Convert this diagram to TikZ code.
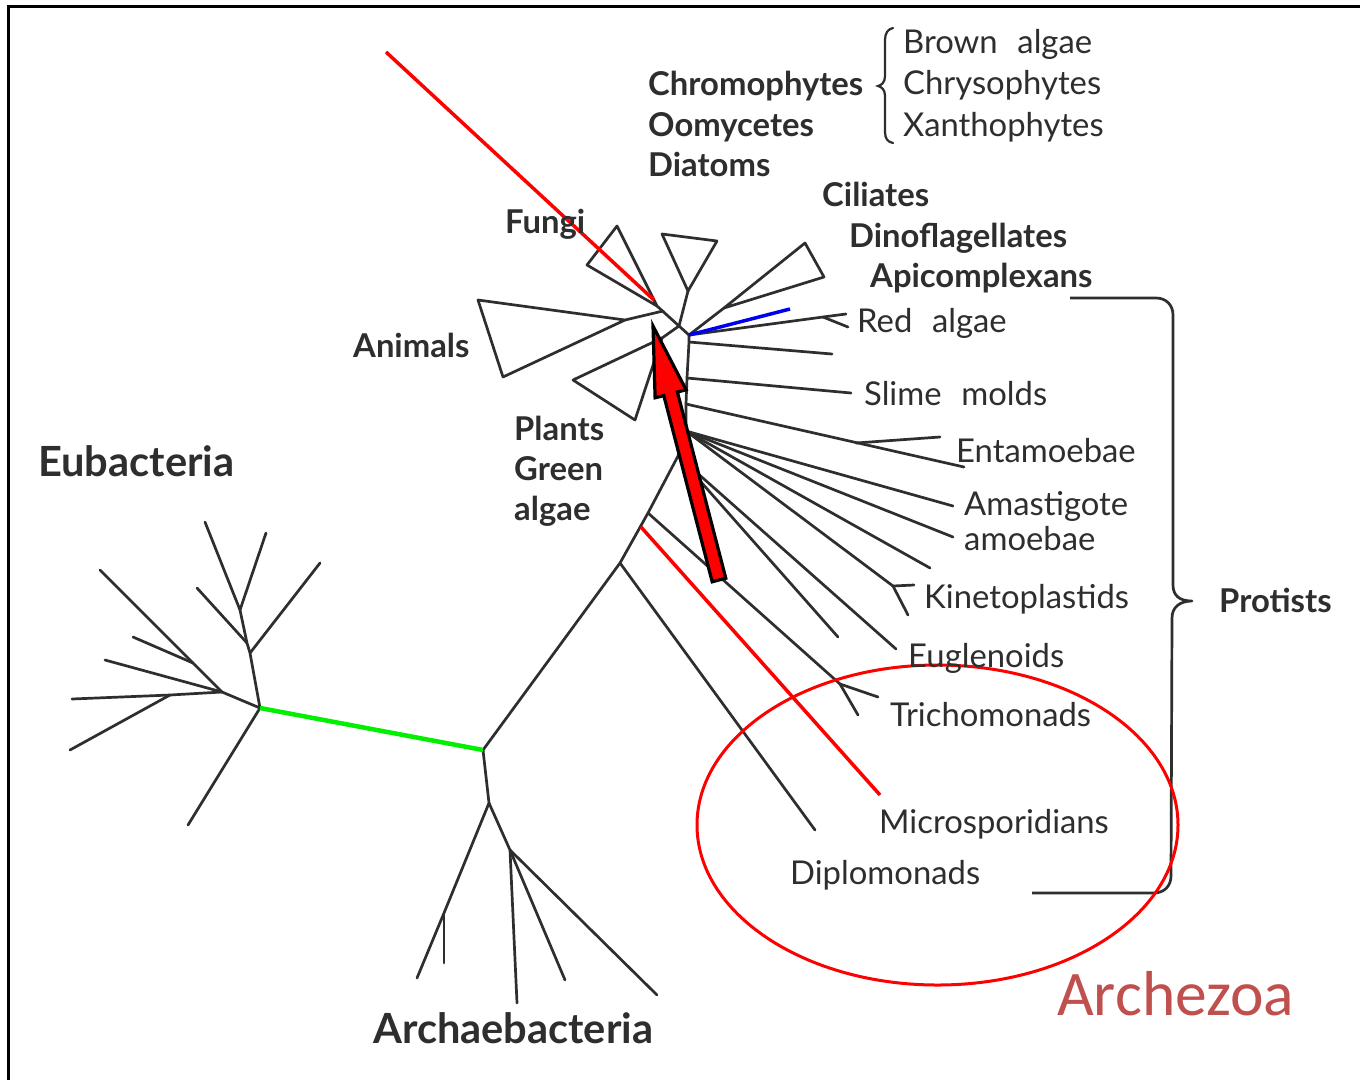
\documentclass[tikz,border=0pt]{standalone}
\usepackage{fontspec}
\setmainfont{Lato}
\newfontfamily\calfont{Carlito}
\definecolor{ink}{HTML}{2E2E2E}
\definecolor{treeclr}{HTML}{2E2E2E}
\definecolor{archclr}{HTML}{C0504D}
\definecolor{redclr}{HTML}{FF0000}
\definecolor{greenclr}{HTML}{00F000}
\definecolor{blueclr}{HTML}{0000F0}
\begin{document}
\begin{tikzpicture}[x=1pt,y=-1pt,
  br/.style={draw=treeclr,line width=2.7pt,line cap=round,line join=round},
  brace/.style={draw=treeclr,line width=2.2pt,line cap=round},
  lblR/.style={anchor=base west,inner sep=0pt,text=ink,font=\fontsize{32.8}{36}\selectfont},
  lblB/.style={anchor=base west,inner sep=0pt,text=ink,font=\fontsize{32.8}{36}\selectfont\bfseries},
  lblBig/.style={anchor=base west,inner sep=0pt,text=ink,font=\fontsize{41.6}{46}\selectfont\bfseries},
  hl/.style={line width=3.5pt,line cap=butt}]
\useasboundingbox (0,0) rectangle (1360,1080);
\fill[white] (0,0) rectangle (1360,1080);
\draw[line width=3.5pt,line join=miter] (8.5,1080) -- (8.5,6.5) -- (1360,6.5);

% ---- crown ----
\coordinate (K) at (679,326);
\coordinate (F0) at (657,306); \coordinate (Fa) at (587,265); \coordinate (Fb) at (617,226);
\coordinate (Aj) at (663,311);
\coordinate (C0) at (688,291); \coordinate (Ca) at (662,234); \coordinate (Cb) at (717,241);
\coordinate (A0) at (625,320); \coordinate (Aa) at (478,300); \coordinate (Ab) at (503,377);
\coordinate (P0) at (662,338); \coordinate (Pa) at (573,380); \coordinate (Pb) at (635,420);
\coordinate (Q0) at (724,308); \coordinate (Qa) at (805,243); \coordinate (Qb) at (824,277);
% ---- trunk ----
\coordinate (T0) at (689,335); \coordinate (T1) at (689,342); \coordinate (T2) at (687,378);
\coordinate (T3) at (686,404); \coordinate (T4) at (686,431); \coordinate (T5) at (678,456);
\coordinate (T6) at (648,513); \coordinate (T7) at (620,563); \coordinate (R0) at (483,750);
% ---- protist branches ----
\coordinate (RAf) at (823,317); \coordinate (RAa) at (846,314); \coordinate (RAb) at (848,327);
\coordinate (X1) at (832,354);
\coordinate (SM) at (851,393);
\coordinate (EN) at (964,467); \coordinate (ENj) at (856,443); \coordinate (ENe) at (940,437);
\coordinate (AM) at (953,506); \coordinate (AMb) at (953,537);
\coordinate (U1) at (930,568);
\coordinate (KIf) at (893,586); \coordinate (KIa) at (908,615); \coordinate (KIb) at (914,585);
\coordinate (U2) at (838,637);
\coordinate (EU) at (896,649);
\coordinate (TRf) at (840,684); \coordinate (TRa) at (858,715); \coordinate (TRb) at (878,697);
\coordinate (DI) at (815,830);
\coordinate (MSs) at (641,527); \coordinate (MSe) at (880,795);
\coordinate (BLe) at (790,309);
\coordinate (RTs) at (386,52); \coordinate (RTe) at (654,300);
% ---- eubacteria ----
\coordinate (E0) at (260,708); \coordinate (E1) at (250,653); \coordinate (E2) at (247,643);
\coordinate (E3) at (240,610); \coordinate (Ea) at (205,522); \coordinate (Eb) at (266,533);
\coordinate (Ec) at (197,588); \coordinate (Ed) at (320,563);
\coordinate (L1) at (222,692); \coordinate (L2) at (193,663); \coordinate (Le) at (100,570);
\coordinate (Lf) at (133,637); \coordinate (Lg) at (105,660); \coordinate (L3) at (170,695);
\coordinate (Lh) at (72,699); \coordinate (Li) at (70,750); \coordinate (Ej) at (188,825);
% ---- archaebacteria ----
\coordinate (B1) at (489,803); \coordinate (B2) at (444,913); \coordinate (Ba) at (417,978);
\coordinate (Bb) at (444,963); \coordinate (B3) at (510,850); \coordinate (Bc) at (517,1003);
\coordinate (Bd) at (565,980); \coordinate (Be) at (657,995);

% crown triangles
\draw[br] (F0) -- (Fa) -- (Fb) -- cycle;
\draw[br] (F0) -- (K);
\draw[br] (C0) -- (Ca) -- (Cb) -- cycle;
\draw[br] (C0) -- (K);
\draw[br] (A0) -- (Aa) -- (Ab) -- cycle;
\draw[br] (A0) -- (Aj);
\draw[br] (P0) -- (Pa) -- (Pb) -- cycle;
\draw[br] (P0) -- (K);
\draw[br] (Q0) -- (Qa) -- (Qb) -- cycle;
\draw[br] (T0) -- (Q0);
\draw[br] (K) -- (T0);
% trunk
\draw[br] (T0) -- (T1) -- (T2) -- (T3) -- (T4) -- (T5) -- (T6) -- (T7) -- (R0);
% branches
\draw[br] (T0) -- (RAf) -- (RAa);
\draw[br] (RAf) -- (RAb);
\draw[br] (T1) -- (X1);
\draw[br] (T2) -- (SM);
\draw[br] (T3) -- (EN);
\draw[br] (ENj) -- (ENe);
\draw[br] (T4) -- (AM);
\draw[br] (T4) -- (AMb);
\draw[br] (T4) -- (U1);
\draw[br] (T4) -- (KIf) -- (KIa);
\draw[br] (KIf) -- (KIb);
\draw[br] (T5) -- (U2);
\draw[br] (T5) -- (EU);
\draw[br] (T6) -- (TRf) -- (TRa);
\draw[br] (TRf) -- (TRb);
\draw[br] (T7) -- (DI);
% eubacteria
\draw[br] (E0) -- (E1) -- (E2) -- (E3) -- (Ea);
\draw[br] (E3) -- (Eb);
\draw[br] (E2) -- (Ec);
\draw[br] (E1) -- (Ed);
\draw[br] (E0) -- (L1) -- (L2) -- (Le);
\draw[br] (L2) -- (Lf);
\draw[br] (L1) -- (Lg);
\draw[br] (L1) -- (L3) -- (Lh);
\draw[br] (L3) -- (Li);
\draw[br] (E0) -- (Ej);
% archaebacteria
\draw[br] (R0) -- (B1) -- (B2) -- (Ba);
\draw[br] (B2) -- (Bb);
\draw[br] (B1) -- (B3) -- (Bc);
\draw[br] (B3) -- (Bd);
\draw[br] (B3) -- (Be);

% braces
\draw[brace] (893,28) .. controls (888,29) and (885,33) .. (885,40) -- (885,76)
  .. controls (885,82) and (882,85) .. (878,86) .. controls (882,87) and (885,90) .. (885,96)
  -- (885,132) .. controls (885,139) and (888,142) .. (893,143);
\draw[br,line cap=butt] (1070,298) -- (1156,298) .. controls (1166,298) and (1173,305) .. (1173,315)
  -- (1173,585) .. controls (1173,596) and (1180,601) .. (1192,601)
  .. controls (1180,601) and (1172,607) .. (1172,618)
  -- (1171,876) .. controls (1171,886) and (1164,893) .. (1154,893) -- (1032,893);

% highlight lines
\draw[hl,draw=redclr] (RTs) -- (RTe);
\draw[hl,draw=redclr] (MSs) -- (MSe);
\draw[hl,draw=blueclr] (T0) -- (BLe);
\draw[hl,draw=greenclr,line width=4.5pt] (E0) -- (R0);

% big arrow
\draw[fill=redclr,draw=black,line width=3.2pt,line join=miter]
  (712.2,581.8) -- (663.8,395.6) -- (655.1,397.8) -- (653,326) -- (686.1,389.8)
  -- (677.4,392.0) -- (725.8,578.2) -- cycle;

% ellipse
\draw[draw=redclr,line width=3pt] (937.5,825) ellipse [x radius=240.5pt, y radius=160pt];

% labels
\node[lblB] (chromo) at (648,95) {Chromophytes};
\node[lblB] (oomy) at (648,136) {Oomycetes};
\node[lblB] (diat) at (648,176) {Diatoms};
\node[lblR] (brown) at (903,53) {Brown\hspace{0.6em}algae};
\node[lblR] (chryso) at (903,94) {Chrysophytes};
\node[lblR] (xantho) at (903,136) {Xanthophytes};
\node[lblB] (cili) at (822,206) {Ciliates};
\node[lblB] (dino) at (849,247) {Dinoflagellates};
\node[lblB] (apic) at (870,287) {Apicomplexans};
\node[lblB] (fungi) at (505,233) {Fungi};
\node[lblB] (anim) at (353,357) {Animals};
\node[lblB] (plants) at (514,440) {Plants};
\node[lblB] (green) at (514,480) {Green};
\node[lblB] (galgae) at (514,520) {algae};
\node[lblBig] (eubac) at (38,476) {Eubacteria};
\node[lblBig] (archb) at (373,1043) {Archaebacteria};
\node[lblB] (prot) at (1219,612) {Protists};
\node[lblR] (redal) at (857,332) {Red\hspace{0.6em}algae};
\node[lblR] (slime) at (864,405) {Slime\hspace{0.6em}molds};
\node[lblR] (entam) at (956,462) {Entamoebae};
\node[lblR] (amast) at (964,515) {Amastigote};
\node[lblR] (amoeb) at (964,550) {amoebae};
\node[lblR] (kinet) at (924,608) {Kinetoplastids};
\node[lblR] (eugl) at (908,667) {Euglenoids};
\node[lblR] (trich) at (890,726) {Trichomonads};
\node[lblR] (micro) at (879,833) {Microsporidians};
\node[lblR] (diplo) at (790,884) {Diplomonads};
\node[anchor=base west,inner sep=0pt,text=archclr,font=\calfont\fontsize{63.5}{70}\selectfont] (archz) at (1057,1015) {Archezoa};
\end{tikzpicture}
\end{document}
